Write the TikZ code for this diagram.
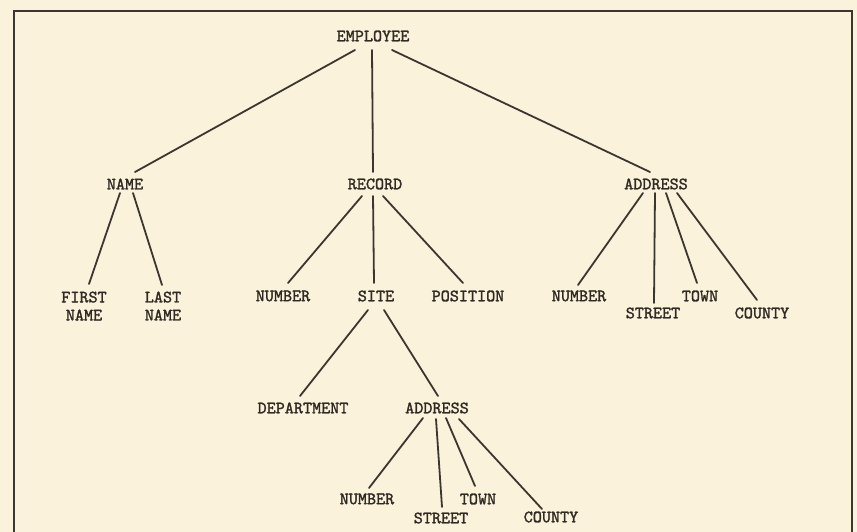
\documentclass[tikz,border=0pt]{standalone}
\usepackage{fontspec}
\newfontfamily\typewriter[FakeBold=1.6]{lmmono10-regular.otf}
\usetikzlibrary{calc}
\definecolor{paper}{RGB}{250,242,218}
\definecolor{ink}{RGB}{48,42,36}
\definecolor{rule}{RGB}{60,54,48}
\begin{document}
\begin{tikzpicture}[x=1pt,y=-1pt,
  lbl/.style={font=\typewriter\fontsize{17.3}{18}\selectfont,
              text=ink, inner sep=0pt, align=center},
  edge/.style={draw=rule, line width=1.8pt, line cap=round},
  frame/.style={draw=rule, line width=2.6pt}]
  % paper and frame
  \fill[paper] (0,0) rectangle (857,532);
  \useasboundingbox (0,0) rectangle (857,532);
  \draw[frame] (14,534) -- (14,11) -- (852,11) -- (852,534);

  % tree labels
  \node[lbl] (emp)  at (373,36)  {EMPLOYEE};
  \node[lbl] (name) at (125,184) {NAME};
  \node[lbl] (rec)  at (375,184) {RECORD};
  \node[lbl] (adra) at (656,184) {ADDRESS};

  \node[lbl] (first) at (84,306)  {FIRST\\NAME};
  \node[lbl] (last)  at (163,306) {LAST\\NAME};

  \node[lbl] (numa) at (283,296) {NUMBER};
  \node[lbl] (site) at (376,296) {SITE};
  \node[lbl] (pos)  at (468,296) {POSITION};

  \node[lbl] (numb)  at (579,296) {NUMBER};
  \node[lbl] (strb)  at (653,313) {STREET};
  \node[lbl] (townb) at (700,296) {TOWN};
  \node[lbl] (cntb)  at (762,313) {COUNTY};

  \node[lbl] (dept) at (303,408) {DEPARTMENT};
  \node[lbl] (adrc) at (437,408) {ADDRESS};

  \node[lbl] (numc)  at (367,499) {NUMBER};
  \node[lbl] (strc)  at (441,518) {STREET};
  \node[lbl] (townc) at (478,499) {TOWN};
  \node[lbl] (cntc)  at (551,517) {COUNTY};

  % branches
  \draw[edge] ($(emp)+(-18,14)$) -- ($(name)+(10,-12)$);
  \draw[edge] ($(emp)+(-1,14)$)  -- ($(rec)+(-2,-12)$);
  \draw[edge] ($(emp)+(19,14)$)  -- ($(adra)+(-6,-12)$);

  \draw[edge] ($(name)+(-5,9)$) -- ($(first)+(5,-22)$);
  \draw[edge] ($(name)+(8,9)$)  -- ($(last)+(-1,-21)$);

  \draw[edge] ($(rec)+(-13,12)$) -- ($(numa)+(5,-13)$);
  \draw[edge] ($(rec)+(-2,12)$)  -- ($(site)+(-2,-13)$);
  \draw[edge] ($(rec)+(8,12)$)   -- ($(pos)+(-5,-13)$);

  \draw[edge] ($(adra)+(-13,9)$) -- ($(numb)+(-1,-11)$);
  \draw[edge] ($(adra)+(-1,9)$)  -- ($(strb)+(1,-10)$);
  \draw[edge] ($(adra)+(10,9)$)  -- ($(townb)+(-3,-13)$);
  \draw[edge] ($(adra)+(21,9)$)  -- ($(cntb)+(-5,-13)$);

  \draw[edge] ($(site)+(-8,14)$) -- ($(dept)+(-3,-12)$);
  \draw[edge] ($(site)+(8,14)$)  -- ($(adrc)+(1,-12)$);

  \draw[edge] ($(adrc)+(-14,10)$) -- ($(numc)+(2,-11)$);
  \draw[edge] ($(adrc)+(-1,11)$)  -- ($(strc)+(1,-11)$);
  \draw[edge] ($(adrc)+(9,10)$)   -- ($(townc)+(-3,-13)$);
  \draw[edge] ($(adrc)+(22,11)$)  -- ($(cntc)+(-9,-8)$);
\end{tikzpicture}
\end{document}
